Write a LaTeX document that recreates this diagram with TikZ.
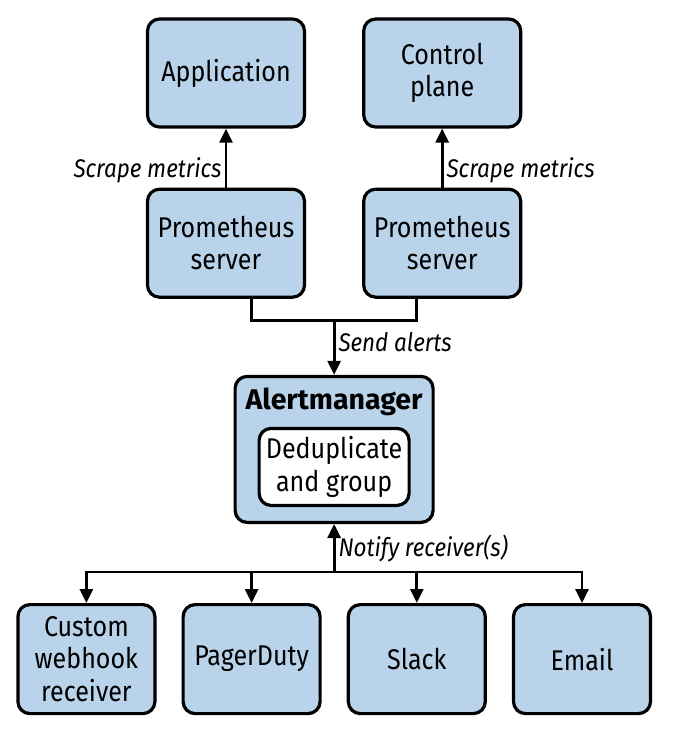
\documentclass[tikz,border=0pt]{standalone}
\usepackage{fontspec}
\setmainfont{Fira Sans}[FakeStretch=0.88]
\newfontfamily\headfont{Fira Sans}
\usetikzlibrary{arrows.meta,positioning,calc}
\definecolor{boxblue}{HTML}{B9D4EA}
\tikzset{
    %Define standard arrow tip
    >={Triangle[width=13pt,length=14pt]},
    %Define style for boxes
    comp/.style={
           rectangle,
           rounded corners=12pt,
           draw=black, line width=3.2pt,
           fill=boxblue,
           minimum width=157pt,
           minimum height=108pt,
           align=center,
           font=\fontsize{28.5}{32.5}\selectfont},
    % Receiver boxes
    recv/.style={
           comp,
           minimum width=137pt,
           minimum height=109pt},
    % Define arrow style
    flow/.style={
           ->,
           line width=2.8pt},
    % Labels on the arrows
    tag/.style={
           font=\fontsize{25.5}{30}\selectfont\itshape,
           inner sep=3pt}
}
\begin{document}
\begin{tikzpicture}[node distance=25pt, auto]
    \useasboundingbox (0,0) rectangle (676pt,-732pt);
    	\node[comp] (app) at (226pt,-73pt) {Application};
    	\node[comp, right=56pt of app] (ctrl) {Control\\plane};
    	\node[comp, below=59pt of app] (prom1) {Prometheus\\server};
    	\node[comp, below=59pt of ctrl] (prom2) {Prometheus\\server};
    	\draw[flow] (prom1) -- (app) node[tag, left, pos=0.3] {Scrape metrics};
    	\draw[flow] (prom2) -- (ctrl) node[tag, right, pos=0.3] {Scrape metrics};
    	% Alertmanager with its inner box
    	\coordinate (mid) at ($(prom1.south)!0.5!(prom2.south)$);
    	\coordinate[below=22pt of mid] (join);
    	\node[comp, minimum width=198pt, minimum height=146pt, below=76pt of mid] (am) {};
    	\node[font=\fontsize{28.5}{35}\headfont\bfseries] (amname) at ([yshift=-27pt]am.north) {Alertmanager};
    	\node[comp, fill=white, minimum width=150pt, minimum height=77pt, above=17pt of am.south] (dedup) {Deduplicate\\and group};
    	\draw[line width=2.8pt] ([xshift=25.5pt]prom1.south) |- (join) -| ([xshift=-25.5pt]prom2.south);
    	\draw[flow] (join) -- (am) node[tag, right, pos=0.4] {Send alerts};
    	% Receivers
    	\node[recv, below=79pt of am, xshift=-82.5pt] (pager) {PagerDuty};
    	\node[recv, left=of pager] (hook) {Custom\\webhook\\receiver};
    	\node[recv, right=of pager] (slack) {Slack};
    	\node[recv, right=of slack] (email) {Email};
    	\coordinate[below=48pt of am.south] (fan);
    	\draw[flow] (fan) -- (am) node[tag, right, midway] {Notify receiver(s)};
    	\foreach \r in {hook,pager,slack,email}
    	   \draw[flow] (fan) -| (\r);
\end{tikzpicture}
\end{document}
